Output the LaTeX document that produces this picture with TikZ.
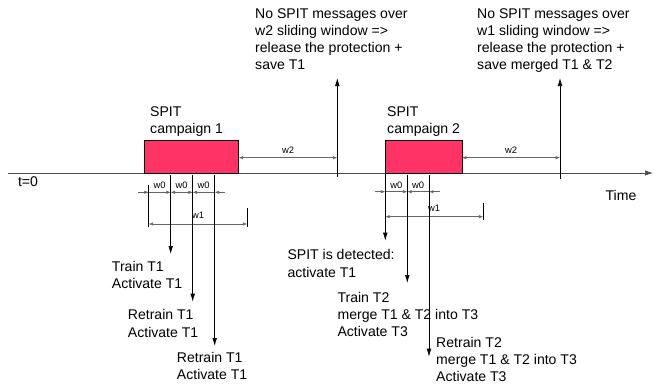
\documentclass[tikz,border=0pt]{standalone}
\usepackage{fontspec}
\setmainfont{Liberation Sans}
\usetikzlibrary{arrows.meta,positioning}
\definecolor{spitred}{RGB}{255,51,102}

\begin{document}
\begin{tikzpicture}[x=0.03cm, y=-0.03cm,
    >={Latex[length=1.3mm,width=1mm]},
    txt/.style={anchor=north west, align=left, inner sep=0pt, font=\fontsize{12}{14.6}\selectfont},
    wlabel/.style={inner sep=0pt, font=\fontsize{8}{9.6}\selectfont},
    timeaxis/.style={line width=0.6pt, draw=black!70, -{Latex[length=2.4mm,width=1.6mm]}},
    event/.style={line width=0.6pt, -{Latex[length=2.4mm,width=1.4mm]}},
    dim/.style={line width=0.5pt, draw=black!60},
    tick/.style={line width=0.6pt},
    campaign/.style={draw=black, line width=0.6pt, fill=spitred}]
    \useasboundingbox (0,0) rectangle (654,383);

    % time axis
    \coordinate (t0) at (8,173);
    \coordinate (tend) at (653,173);
    \draw[timeaxis] (t0) -- (tend);
    \node[wlabel, font=\fontsize{12}{14.6}\selectfont] (tzero) at (28,182) {t=0};
    \node[wlabel, font=\fontsize{12}{14.6}\selectfont] (time) at (621,195) {Time};

    % campaigns
    \draw[campaign] (144.3,140) rectangle (238.7,173);
    \draw[campaign] (385.3,140) rectangle (462,173);
    \node[txt] (camp1) at (150,106) {SPIT\\campaign 1};
    \node[txt] (camp2) at (387,106) {SPIT\\campaign 2};

    % release of the protection
    \coordinate (r1) at (337.3,177);
    \coordinate (r1tip) at (337.3,78);
    \coordinate (r2) at (560,179);
    \coordinate (r2tip) at (560,78);
    \draw[event] (r1) -- (r1tip);
    \draw[event] (r2) -- (r2tip);
    \node[txt] (rel1) at (255,8) {No SPIT messages over\\w2 sliding window =>\\release the protection +\\save T1};
    \node[txt] (rel2) at (477,8) {No SPIT messages over\\w1 sliding window =>\\release the protection +\\save merged T1 \& T2};

    % w2 windows
    \draw[dim, <->] (238.7,157.7) -- (337.3,157.7);
    \draw[dim, <->] (462,157.7) -- (560,157.7);
    \node[wlabel] (w2a) at (288,150) {w2};
    \node[wlabel] (w2b) at (511,150) {w2};

    % campaign 1: w0 and w1 windows
    \draw[tick] (148.7,185) -- (148.7,227);
    \draw[dim, ->] (138,192.3) -- (148.7,192.3);
    \draw[dim, ->] (148.7,192.3) -- (170.7,192.3);
    \draw[dim, <->] (170.7,192.3) -- (192.7,192.3);
    \draw[dim, <-] (192.7,192.3) -- (214.7,192.3);
    \draw[dim, ->] (225,192.3) -- (214.7,192.3);
    \node[wlabel] (w0a) at (159.7,185) {w0};
    \node[wlabel] (w0b) at (181.7,185) {w0};
    \node[wlabel] (w0c) at (203.7,185) {w0};
    \draw[tick] (247.3,208) -- (247.3,227);
    \draw[dim, <->] (148.7,224) -- (247.3,224);
    \node[wlabel] (w1a) at (198,215) {w1};

    % campaign 1: events
    \coordinate (e1) at (170.7,175);
    \coordinate (e1tip) at (170.7,254);
    \coordinate (e2) at (192.7,175);
    \coordinate (e2tip) at (192.7,301.7);
    \coordinate (e3) at (214.7,175);
    \coordinate (e3tip) at (214.7,346);
    \draw[event] (e1) -- (e1tip);
    \draw[event] (e2) -- (e2tip);
    \draw[event] (e3) -- (e3tip);
    \node[txt] (train1) at (111.7,261) {Train T1\\Activate T1};
    \node[txt] (retrain1) at (127.7,309.5) {Retrain T1\\Activate T1};
    \node[txt] (retrain2) at (176.7,352) {Retrain T1\\Activate T1};

    % campaign 2: w0 and w1 windows
    \draw[dim, ->] (375,191.7) -- (385.3,191.7);
    \draw[dim, ->] (385.3,191.7) -- (407.3,191.7);
    \draw[dim, <-] (407.3,191.7) -- (429,191.7);
    \draw[dim, ->] (440,191.7) -- (429,191.7);
    \node[wlabel] (w0d) at (396.3,185) {w0};
    \node[wlabel] (w0e) at (418.2,185) {w0};
    \draw[tick] (483.3,203) -- (483.3,220);
    \draw[dim, <->] (385.3,216.7) -- (483.3,216.7);
    \node[wlabel] (w1b) at (434,208) {w1};

    % campaign 2: events
    \coordinate (f1) at (385.3,173);
    \coordinate (f1tip) at (385.3,240.7);
    \coordinate (f2) at (407.3,175);
    \coordinate (f2tip) at (407.3,283);
    \coordinate (f3) at (429,175);
    \coordinate (f3tip) at (429,356.7);
    \draw[event] (f1) -- (f1tip);
    \draw[event] (f2) -- (f2tip);
    \draw[event] (f3) -- (f3tip);
    \node[txt] (detect) at (287.3,249.5) {SPIT is detected:\\activate T1};
    \node[txt] (train2) at (337.3,292) {Train T2\\merge T1 \& T2 into T3\\Activate T3};
    \node[txt] (retrain3) at (436,337) {Retrain T2\\merge T1 \& T2 into T3\\Activate T3};
\end{tikzpicture}
\end{document}
